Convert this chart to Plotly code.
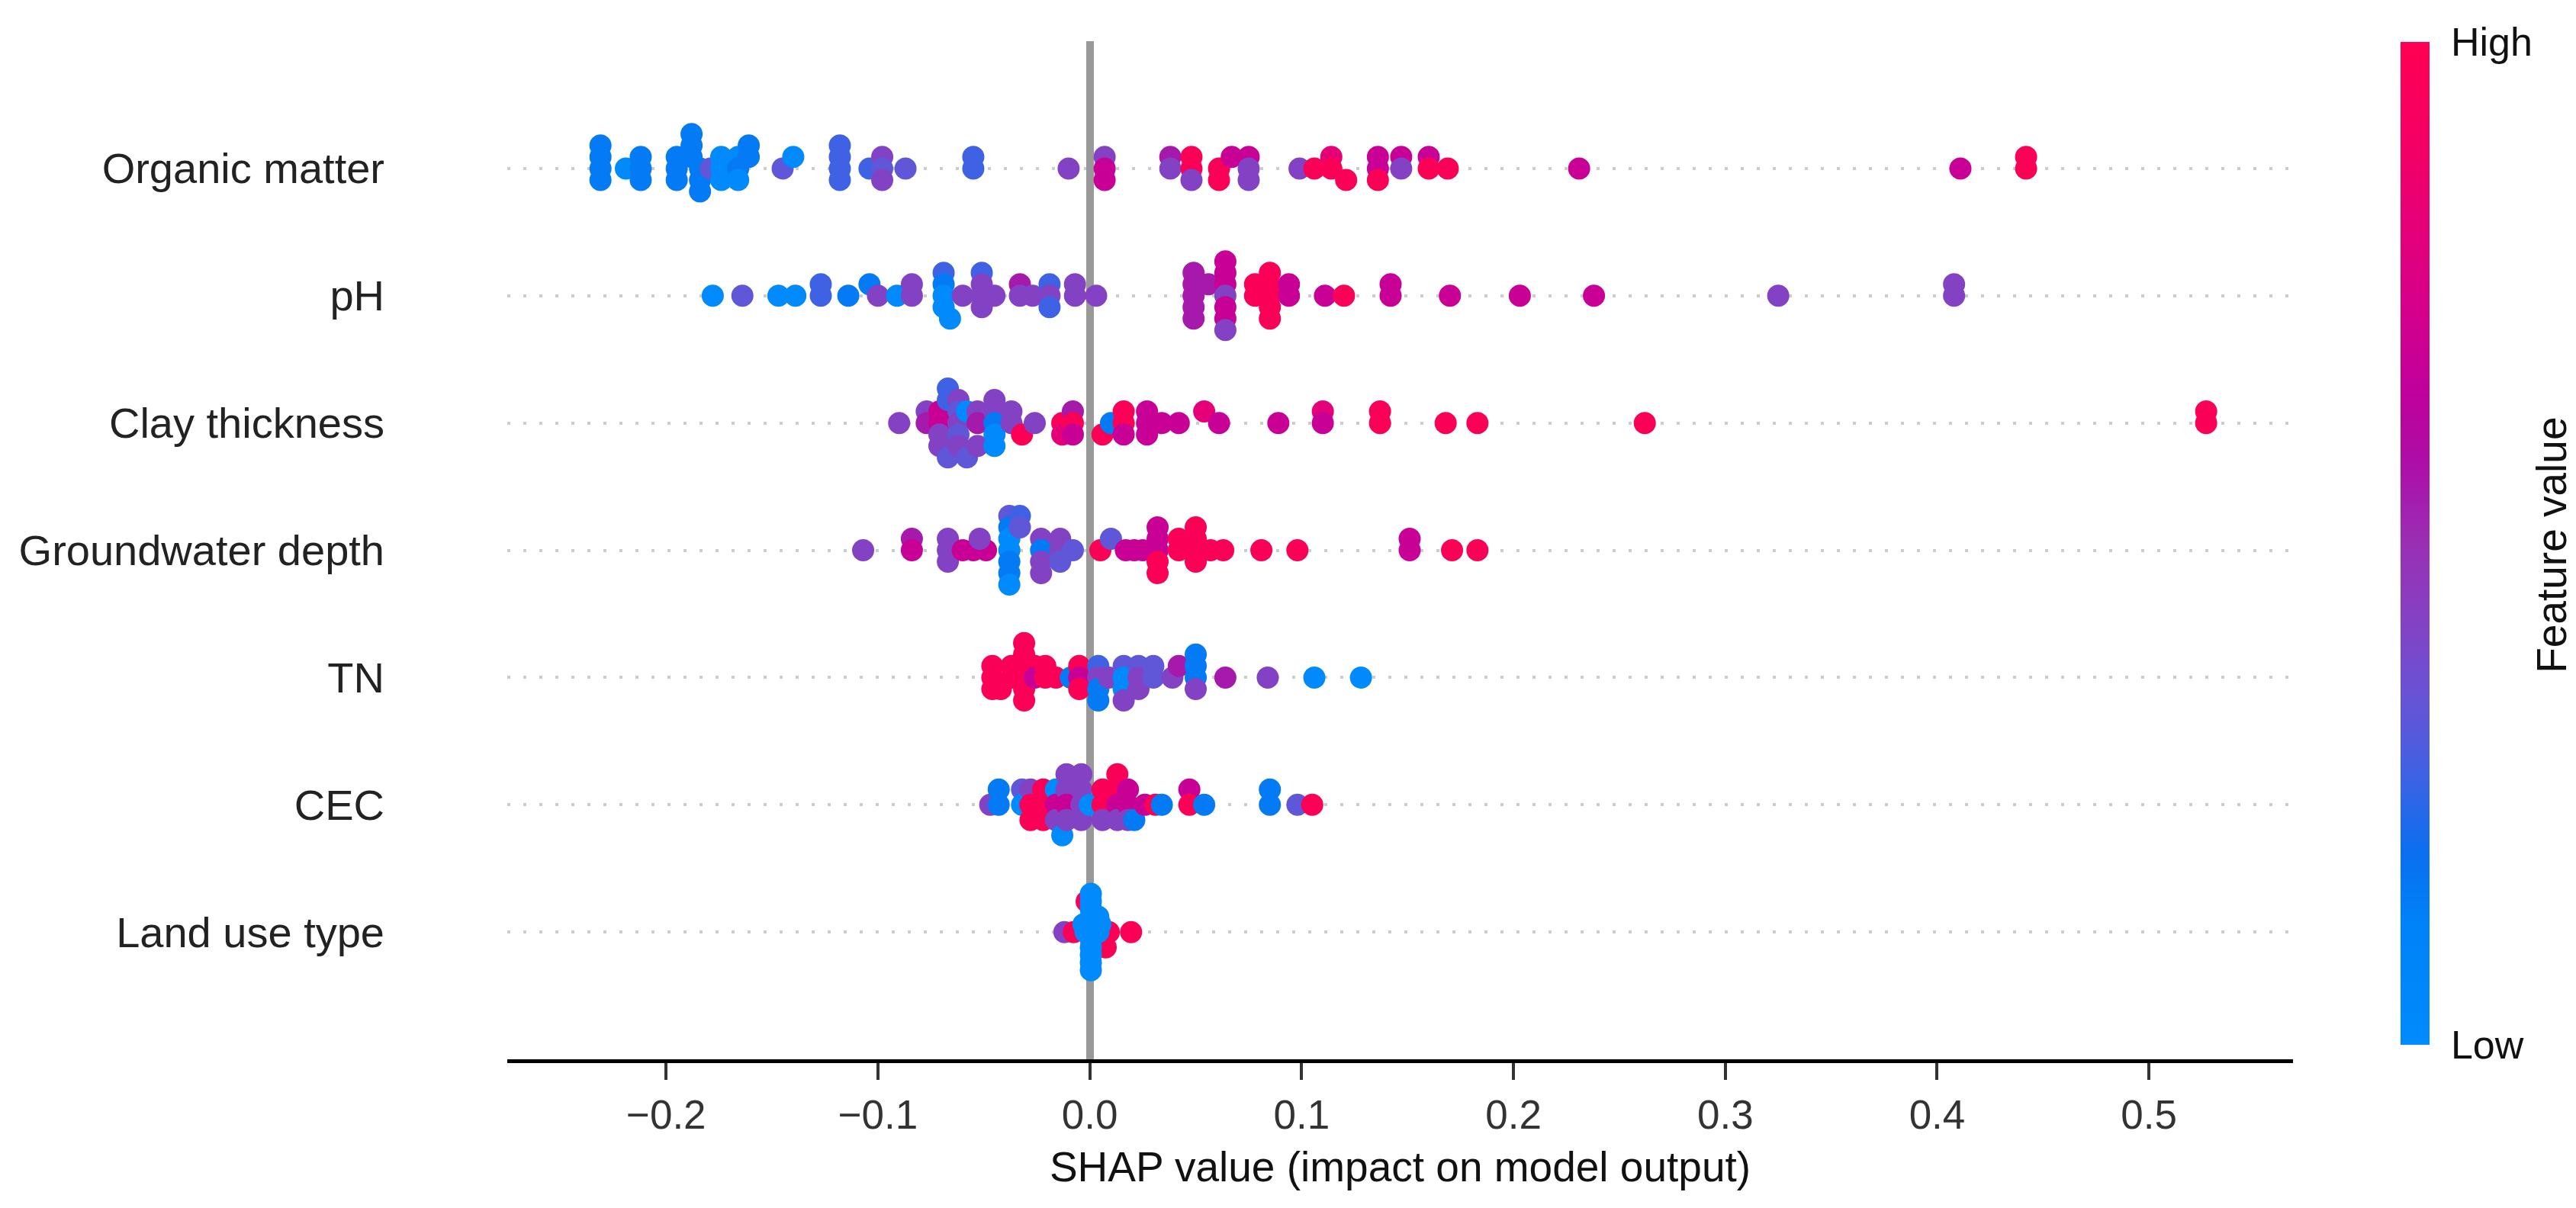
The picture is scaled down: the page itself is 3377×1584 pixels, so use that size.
import plotly.graph_objects as go

# ---------------- data ----------------
# feature names, bottom row first (row index 0 .. 6)
features = ["Land use type", "CEC", "TN", "Groundwater depth",
            "Clay thickness", "pH", "Organic matter"]

x_ticks = [-0.2, -0.1, 0.0, 0.1, 0.2, 0.3, 0.4, 0.5]

# feature-value colour codes (0 = low, 1 = high)
LB, B, BP, PB, P, MP, M, RM, R = 0.02, 0.15, 0.27, 0.33, 0.42, 0.55, 0.68, 0.82, 0.97

# each point: (SHAP value, beeswarm layer, feature value)
organic_matter = [
    (-0.231, 2, B), (-0.231, 1, B), (-0.231, 0, B), (-0.231, -1, B),
    (-0.219, 0, LB),
    (-0.212, 1, B), (-0.212, 0, B), (-0.212, -1, B),
    (-0.195, 1, B), (-0.195, 0, B), (-0.195, -1, B),
    (-0.188, 3, B), (-0.188, 2, B), (-0.188, 1, B),
    (-0.184, 0, B), (-0.184, -1, B), (-0.184, -2, B),
    (-0.179, 0, PB),
    (-0.174, 1, LB), (-0.174, 0, LB), (-0.174, -1, LB),
    (-0.166, 1, LB), (-0.166, 0, B), (-0.166, -1, LB),
    (-0.161, 2, B), (-0.161, 1, B),
    (-0.145, 0, PB),
    (-0.140, 1, LB),
    (-0.118, 2, BP), (-0.118, 1, BP), (-0.118, 0, BP), (-0.118, -1, BP),
    (-0.104, 0, BP),
    (-0.098, 1, P), (-0.098, 0, PB), (-0.098, -1, P),
    (-0.087, 0, PB),
    (-0.055, 1, BP), (-0.055, 0, BP),
    (-0.010, 0, P),
    (0.007, 1, P), (0.007, 0, M), (0.007, -1, M),
    (0.038, 1, MP), (0.038, 0, P),
    (0.048, 1, R), (0.048, 0, R), (0.048, -1, P),
    (0.061, 0, R), (0.061, -1, R),
    (0.067, 1, M),
    (0.075, 1, M), (0.075, 0, P), (0.075, -1, P),
    (0.099, 0, P),
    (0.106, 0, R),
    (0.114, 1, RM), (0.114, 0, R),
    (0.121, -1, R),
    (0.136, 1, M), (0.136, 0, M), (0.136, -1, R),
    (0.147, 1, M), (0.147, 0, P),
    (0.160, 1, M), (0.160, 0, R),
    (0.169, 0, R),
    (0.231, 0, M),
    (0.411, 0, M),
    (0.442, 1, R), (0.442, 0, R),
]

ph = [
    (-0.178, 0, LB),
    (-0.164, 0, PB),
    (-0.147, 0, LB),
    (-0.139, 0, LB),
    (-0.127, 1, BP), (-0.127, 0, BP),
    (-0.114, 0, B),
    (-0.104, 1, B),
    (-0.100, 0, P),
    (-0.091, 0, LB),
    (-0.084, 1, P), (-0.084, 0, P),
    (-0.069, 2, BP), (-0.069, 1, B), (-0.069, 0, LB), (-0.069, -1, LB),
    (-0.066, -2, LB),
    (-0.060, 0, P),
    (-0.051, 2, BP), (-0.051, 1, P), (-0.051, 0, P), (-0.051, -1, P),
    (-0.045, 0, P),
    (-0.033, 1, MP), (-0.033, 0, P),
    (-0.027, 0, P),
    (-0.019, 1, BP), (-0.019, 0, P), (-0.019, -1, BP),
    (-0.007, 1, P), (-0.007, 0, P),
    (0.003, 0, P),
    (0.049, 2, MP), (0.049, 1, MP), (0.049, 0, MP), (0.049, -1, MP), (0.049, -2, MP),
    (0.056, 1, MP),
    (0.064, 3, M), (0.064, 2, M), (0.064, 1, M), (0.064, 0, P),
    (0.064, -1, M), (0.064, -2, M), (0.064, -3, P),
    (0.078, 1, R), (0.078, 0, R),
    (0.085, 2, R), (0.085, 1, R), (0.085, 0, R), (0.085, -1, R), (0.085, -2, R),
    (0.094, 1, M), (0.094, 0, M),
    (0.111, 0, M),
    (0.120, 0, R),
    (0.142, 1, M), (0.142, 0, M),
    (0.170, 0, M),
    (0.203, 0, M),
    (0.238, 0, M),
    (0.325, 0, P),
    (0.408, 1, P), (0.408, 0, P),
]

clay_thickness = [
    (-0.090, 0, P),
    (-0.077, 1, P), (-0.077, 0, MP),
    (-0.071, 1, M), (-0.071, 0, M), (-0.071, -1, P), (-0.071, -2, P),
    (-0.067, 3, BP), (-0.067, 2, BP), (-0.067, -3, PB),
    (-0.062, 2, P), (-0.062, 1, PB), (-0.062, 0, P), (-0.062, -1, PB), (-0.062, -2, P),
    (-0.058, 1, LB), (-0.058, -3, PB),
    (-0.053, 1, P), (-0.053, 0, MP), (-0.053, -2, P),
    (-0.045, 2, P), (-0.045, 1, P), (-0.045, 0, B), (-0.045, -1, LB), (-0.045, -2, LB),
    (-0.037, 1, P), (-0.037, 0, P),
    (-0.032, -1, R),
    (-0.026, 0, P),
    (-0.013, 0, R), (-0.013, -1, RM),
    (-0.008, 1, MP), (-0.008, 0, R), (-0.008, -1, M),
    (0.006, -1, R),
    (0.010, 0, B),
    (0.016, 1, R), (0.016, 0, R), (0.016, -1, M),
    (0.027, 1, M), (0.027, 0, M), (0.027, -1, M),
    (0.034, 0, M),
    (0.042, 0, M),
    (0.054, 1, RM),
    (0.061, 0, M),
    (0.089, 0, M),
    (0.110, 1, RM), (0.110, 0, M),
    (0.137, 1, R), (0.137, 0, R),
    (0.168, 0, R),
    (0.183, 0, R),
    (0.262, 0, R),
    (0.527, 1, R), (0.527, 0, R),
]

groundwater_depth = [
    (-0.107, 0, P),
    (-0.084, 1, MP), (-0.084, 0, M),
    (-0.067, 1, P), (-0.067, 0, P), (-0.067, -1, P),
    (-0.060, 0, M), (-0.055, 0, M), (-0.049, 0, M),
    (-0.052, 1, P),
    (-0.038, 3, PB), (-0.038, 2, B), (-0.038, 1, LB), (-0.038, 0, LB),
    (-0.038, -1, B), (-0.038, -2, B), (-0.038, -3, LB),
    (-0.033, 3, BP), (-0.033, 2, PB),
    (-0.023, 1, P), (-0.023, 0, B), (-0.023, -1, P), (-0.023, -2, P),
    (-0.014, 1, P), (-0.014, 0, P), (-0.014, -1, PB),
    (-0.008, 0, PB),
    (0.005, 0, R),
    (0.010, 1, PB),
    (0.017, 0, M), (0.021, 0, M), (0.025, 0, M),
    (0.032, 2, M), (0.032, 1, M), (0.032, 0, M), (0.032, -1, R), (0.032, -2, R),
    (0.042, 1, R), (0.042, 0, R),
    (0.050, 2, R), (0.050, 1, R), (0.050, 0, R), (0.050, -1, R),
    (0.057, 0, R), (0.063, 0, R),
    (0.081, 0, R),
    (0.098, 0, R),
    (0.151, 1, M), (0.151, 0, M),
    (0.171, 0, R),
    (0.183, 0, R),
]

tn = [
    (-0.046, 1, R), (-0.046, 0, R), (-0.046, -1, R),
    (-0.042, -1, R),
    (-0.037, 1, R), (-0.037, 0, R),
    (-0.031, 3, R), (-0.031, 2, R), (-0.031, 1, R), (-0.031, 0, R),
    (-0.031, -1, R), (-0.031, -2, R),
    (-0.026, 1, R), (-0.026, 0, M),
    (-0.021, 1, R), (-0.021, 0, R),
    (-0.016, 0, R),
    (-0.009, 0, B),
    (-0.005, 1, R), (-0.005, 0, M), (-0.005, -1, R),
    (0.004, 1, BP), (0.004, 0, P), (0.004, -1, B), (0.004, -2, B),
    (0.009, 0, P),
    (0.016, 1, PB), (0.016, 0, LB), (0.016, -1, LB), (0.016, -2, P),
    (0.023, 1, PB), (0.023, 0, P), (0.023, -1, P),
    (0.030, 1, PB), (0.030, 0, PB),
    (0.039, 0, P),
    (0.042, 1, MP),
    (0.050, 2, B), (0.050, 1, B), (0.050, 0, B), (0.050, -1, P),
    (0.064, 0, MP),
    (0.084, 0, P),
    (0.106, 0, LB),
    (0.128, 0, LB),
]

cec = [
    (-0.047, 0, P),
    (-0.043, 1, B), (-0.043, 0, B),
    (-0.032, 1, PB), (-0.032, 0, LB),
    (-0.028, 1, P), (-0.028, 0, R), (-0.028, -1, R),
    (-0.022, 1, R), (-0.022, 0, R), (-0.022, -1, R),
    (-0.016, 1, LB), (-0.016, 0, M), (-0.016, -1, P),
    (-0.013, -2, LB),
    (-0.011, 2, P), (-0.011, 1, P), (-0.011, 0, M), (-0.011, -1, P),
    (-0.004, 2, P), (-0.004, 1, P), (-0.004, 0, P), (-0.004, -1, P),
    (0.000, 0, LB),
    (0.006, 1, R), (0.006, 0, R), (0.006, -1, P),
    (0.013, 2, R), (0.013, 1, R), (0.013, 0, M), (0.013, -1, P),
    (0.018, 1, M), (0.018, 0, M), (0.018, -1, P),
    (0.021, -1, B),
    (0.026, 0, M),
    (0.031, 0, R),
    (0.034, 0, B),
    (0.047, 1, M), (0.047, 0, R),
    (0.054, 0, B),
    (0.085, 1, B), (0.085, 0, B),
    (0.098, 0, PB),
    (0.105, 0, R),
]

land_use_type = [
    (-0.012, 0, P),
    (-0.0076, 0, R),
    (-0.0015, 4, R),
    (0.0075, -2, R),
    (0.009, 0, R),
    (0.0195, 0, R),
    (0.0005, 5, LB), (0.0005, 4, LB), (0.0005, 3, LB), (0.0005, 2, LB),
    (0.0005, 1, LB), (0.0005, 0, LB), (0.0005, -1, LB), (0.0005, -2, LB),
    (0.0005, -3, LB), (0.0005, -4, LB), (0.0005, -5, LB),
    (0.004, 2, LB), (0.004, 0, LB), (0.005, 1, LB),
    (-0.003, 1, LB), (-0.002, 0, LB),
]

rows = [land_use_type, cec, tn, groundwater_depth,
        clay_thickness, ph, organic_matter]

# SHAP red-blue colormap (sampled from the colour bar)
colorscale = [
    [0.00, "#008bfb"], [0.12, "#0082f8"], [0.19, "#0a6ff0"],
    [0.27, "#3e62e3"], [0.35, "#6a52d4"], [0.43, "#8640c2"],
    [0.50, "#9a2fb4"], [0.58, "#ad0ea6"], [0.65, "#c0009c"],
    [0.73, "#d4008c"], [0.81, "#e4007a"], [0.89, "#f20066"],
    [1.00, "#ff0052"],
]

# ---------------- build beeswarm (SHAP layout rule) ----------------
xs, ys, cs = [], [], []
row_height = 0.4
for idx, pts in enumerate(rows):
    max_layer = max(p[1] for p in pts)
    step = 0.9 * row_height / (max_layer + 1)
    for xv, layer, cv in pts:
        xs.append(xv)
        ys.append(idx + layer * step)
        cs.append(cv)

FONT = "Liberation Sans, Arial, Helvetica, sans-serif"

fig = go.Figure()
fig.add_trace(go.Scatter(
    x=xs, y=ys, mode="markers",
    marker=dict(
        size=29, color=cs, colorscale=colorscale, cmin=0, cmax=1,
        opacity=1, line=dict(width=0),
        showscale=True,
        colorbar=dict(
            tickvals=[0, 1], ticktext=["Low", "High"],
            thickness=38, thicknessmode="pixels",
            len=1315, lenmode="pixels",
            x=1.0602, xanchor="left", xref="paper",
            y=0.9993, yanchor="top",
            xpad=0, ypad=0, outlinewidth=0,
            ticks="outside", ticklen=18, tickcolor="rgba(0,0,0,0)",
            tickfont=dict(size=52, color="#111111", family=FONT),
        ),
    ),
    hoverinfo="skip",
    showlegend=False,
))

fig.add_annotation(
    text="Feature value", textangle=-90,
    xref="paper", yref="paper", x=1.1448, y=0.505,
    xanchor="center", yanchor="middle", showarrow=False,
    font=dict(size=55, color="#111111", family=FONT),
)

fig.update_layout(
    width=3377, height=1584,
    margin=dict(l=657, r=379, t=46, b=203, autoexpand=False),
    paper_bgcolor="white", plot_bgcolor="white",
    font=dict(family=FONT, color="#111111"),
    xaxis=dict(
        range=[-0.275, 0.568], tickvals=x_ticks, tickformat=".1f",
        showline=True, linecolor="#000000", linewidth=5,
        ticks="outside", ticklen=22, tickwidth=4, tickcolor="#333333",
        tickfont=dict(size=53, color="#333333", family=FONT),
        showgrid=False,
        zeroline=True, zerolinecolor="#999999", zerolinewidth=10,
        title=dict(text="SHAP value (impact on model output)",
                   font=dict(size=55, color="#111111", family=FONT),
                   standoff=22),
        automargin=False,
    ),
    yaxis=dict(
        range=[-1, 7], tickvals=list(range(len(features))), ticktext=features,
        showgrid=True, gridcolor="#cccccc", gridwidth=4, griddash="4px,17px",
        zeroline=False, showline=False, ticks="",
        ticklabelstandoff=160,
        tickfont=dict(size=56, color="#222222", family=FONT),
        automargin=False,
    ),
)

fig.write_html("out.html")
